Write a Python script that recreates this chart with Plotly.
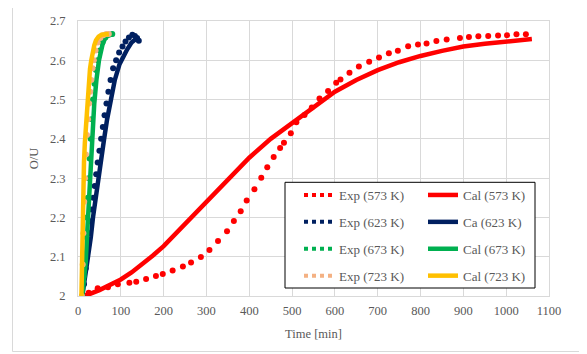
import plotly.graph_objects as go

# ---------------- data ----------------
exp573_t = [10, 25, 46, 70, 93, 120, 136, 159, 182, 198, 221, 245, 264, 287, 307, 327, 348, 364, 380,
            394, 412, 428, 442, 457, 472, 481, 497, 510, 529, 546, 564, 584, 603, 613, 634, 656, 680,
            703, 726, 747, 771, 794, 814, 837, 861, 892, 913, 935, 958, 981, 1002, 1024, 1046]
exp573_y = [2.0, 2.008, 2.02, 2.022, 2.03, 2.034, 2.036, 2.043, 2.051, 2.056, 2.065, 2.075, 2.085,
            2.099, 2.117, 2.14, 2.165, 2.191, 2.216, 2.243, 2.272, 2.301, 2.328, 2.354, 2.377, 2.39,
            2.414, 2.442, 2.461, 2.48, 2.503, 2.522, 2.543, 2.551, 2.568, 2.584, 2.596, 2.607, 2.618,
            2.624, 2.636, 2.640, 2.643, 2.649, 2.653, 2.657, 2.659, 2.661, 2.662, 2.663, 2.664, 2.666, 2.666]

cal573_t = [10, 25, 50, 75, 100, 125, 150, 175, 200, 250, 300, 350, 400, 450, 500, 550, 600, 650,
            700, 750, 800, 850, 900, 950, 1000, 1060]
cal573_y = [2.0, 2.004, 2.015, 2.027, 2.042, 2.06, 2.08, 2.103, 2.127, 2.183, 2.24, 2.297, 2.352,
            2.4, 2.441, 2.482, 2.52, 2.55, 2.575, 2.595, 2.611, 2.624, 2.635, 2.642, 2.647, 2.654]

exp623_t = [10, 14, 18, 21, 24, 27, 29.5, 32, 35.5, 39, 42.5, 46, 50, 54, 58, 62, 66.5, 71, 76, 82,
            89, 96, 104, 111, 119, 127, 133, 138, 142]
exp623_y = [2.0, 2.03, 2.07, 2.10, 2.13, 2.16, 2.19, 2.22, 2.25, 2.28, 2.31, 2.34, 2.37, 2.40, 2.43,
            2.46, 2.49, 2.52, 2.55, 2.58, 2.60, 2.62, 2.635, 2.648, 2.658, 2.665, 2.662, 2.657, 2.65]

cal623_t = [10, 17, 24, 30, 35, 41, 46.7, 54, 61, 68, 76, 86, 97, 105, 115, 125, 135, 142]
cal623_y = [2.0, 2.05, 2.1, 2.15, 2.2, 2.25, 2.3, 2.35, 2.4, 2.45, 2.5, 2.55, 2.59, 2.61, 2.628,
            2.645, 2.654, 2.656]

exp673_t = [10, 13, 16, 18.5, 20.5, 23, 25, 27, 29.5, 32, 35, 38.5, 42, 46, 51, 57, 64, 72, 80]
exp673_y = [2.0, 2.05, 2.1, 2.15, 2.2, 2.25, 2.3, 2.35, 2.4, 2.45, 2.5, 2.54, 2.575, 2.6, 2.625,
            2.645, 2.658, 2.665, 2.667]

cal673_t = [10, 14, 18, 22, 26, 30, 34, 38, 43, 49, 57, 64, 72, 84]
cal673_y = [2.0, 2.04, 2.085, 2.17, 2.255, 2.34, 2.425, 2.49, 2.55, 2.60, 2.639, 2.658, 2.664, 2.667]

exp723_t = [9, 11, 12.5, 14.5, 16.5, 18.5, 21, 23.5, 26, 28.5, 31, 34, 37, 41, 46, 52, 59, 66, 72]
exp723_y = [2.0, 2.08, 2.16, 2.24, 2.3, 2.36, 2.41, 2.45, 2.49, 2.52, 2.55, 2.58, 2.6, 2.625, 2.645,
            2.657, 2.664, 2.667, 2.667]

cal723_t = [8, 9, 10, 12, 14, 16, 18, 20, 22, 25, 28, 31, 34, 38, 42, 48, 55, 63, 72]
cal723_y = [2.0, 2.08, 2.16, 2.26, 2.34, 2.39, 2.43, 2.47, 2.51, 2.55, 2.578, 2.6, 2.62, 2.638,
            2.651, 2.66, 2.665, 2.667, 2.667]

x_ticks = [0, 100, 200, 300, 400, 500, 600, 700, 800, 900, 1000, 1100]
y_ticks = [2, 2.1, 2.2, 2.3, 2.4, 2.5, 2.6, 2.7]
y_tick_text = ["2", "2.1", "2.2", "2.3", "2.4", "2.5", "2.6", "2.7"]

series = [
    ("Exp (573 K)", "Cal (573 K)", exp573_t, exp573_y, cal573_t, cal573_y, "#FF0000", "#FF0000"),
    ("Exp (623 K)", "Ca (623 K)", exp623_t, exp623_y, cal623_t, cal623_y, "#002060", "#002060"),
    ("Exp (673 K)", "Cal (673 K)", exp673_t, exp673_y, cal673_t, cal673_y, "#00B050", "#00B050"),
    ("Exp (723 K)", "Cal (723 K)", exp723_t, exp723_y, cal723_t, cal723_y, "#F4B183", "#FFC000"),
]

FONT = "Liberation Serif, Times New Roman, DejaVu Serif, serif"
GREY = "#595959"
GRID = "#D9D9D9"
AX_FS = 12.5
LEG_FS = 13

fig = go.Figure()
for i, (en, cn, et, ey, ct, cy, ecol, ccol) in enumerate(series):
    fig.add_trace(go.Scatter(x=et, y=ey, mode="markers", name=en, showlegend=False,
                             legendgroup="e%d" % i,
                             marker=dict(color=ecol, size=6, line=dict(width=0))))
    # legend sample for the experimental series (dotted line as in the original legend)
    fig.add_trace(go.Scatter(x=[None], y=[None], mode="lines", name=en, legend="legend",
                             legendgroup="e%d" % i,
                             line=dict(color=ecol, width=4, dash="dot")))
    fig.add_trace(go.Scatter(x=ct, y=cy, mode="lines", name=cn, legend="legend2",
                             legendgroup="c%d" % i,
                             line=dict(color=ccol, width=4.5)))

# the page adds an 8 px body margin (left/top); the figure is sized/placed to compensate
OFF = 8
L, R, T, B = 78, 38, 21, 58          # target margins in window pixels
W, H = 587, 354                       # window size
FW, FH = W - OFF, H - OFF            # figure size
ml, mt = L - OFF, T - OFF
mr, mb = R, B
pw, ph = FW - ml - mr, FH - mt - mb
plot_bottom = H - B
def px(xp):
    return (xp - L) / pw
def py(yp):
    return (plot_bottom - yp) / ph

legend_common = dict(
    font=dict(family=FONT, size=LEG_FS, color=GREY),
    bgcolor="rgba(0,0,0,0)", borderwidth=0,
    orientation="v", traceorder="grouped", tracegroupgap=7,
    xanchor="left", yanchor="top", itemclick=False, itemdoubleclick=False,
)

fig.update_layout(
    width=FW, height=FH,
    margin=dict(l=ml, r=mr, t=mt, b=mb, autoexpand=False),
    paper_bgcolor="white", plot_bgcolor="white",
    font=dict(family=FONT, size=AX_FS, color=GREY),
    xaxis=dict(range=[0, 1100], tickvals=x_ticks, ticktext=[str(v) for v in x_ticks],
               showgrid=True, gridcolor=GRID, gridwidth=1, zeroline=False,
               showline=True, linecolor=GRID, linewidth=1, mirror=True,
               ticks="", ticklabelstandoff=3, automargin=False,
               tickfont=dict(family=FONT, size=AX_FS, color=GREY),
               title=dict(text="Time [min]", font=dict(family=FONT, size=AX_FS, color=GREY), standoff=12)),
    yaxis=dict(range=[2, 2.7], tickvals=y_ticks, ticktext=y_tick_text,
               showgrid=True, gridcolor=GRID, gridwidth=1, zeroline=False,
               showline=True, linecolor=GRID, linewidth=1, mirror=True,
               ticks="", ticklabelstandoff=9, automargin=False,
               tickfont=dict(family=FONT, size=AX_FS, color=GREY),
               title=dict(text="O/U", font=dict(family=FONT, size=AX_FS, color=GREY), standoff=8)),
    legend=dict(x=px(299), y=py(180), **legend_common),
    legend2=dict(x=px(423), y=py(180), **legend_common),
    shapes=[
        dict(type="rect", xref="paper", yref="paper", layer="above",
             x0=px(12.5), x1=px(581.5), y0=py(351.5), y1=py(-3),
             line=dict(color=GRID, width=1), fillcolor="rgba(0,0,0,0)"),
        dict(type="rect", xref="paper", yref="paper", layer="above",
             x0=px(285), x1=px(535), y0=py(288), y1=py(182.3),
             line=dict(color="black", width=1), fillcolor="white"),
    ],
)

fig.write_html("out.html")
